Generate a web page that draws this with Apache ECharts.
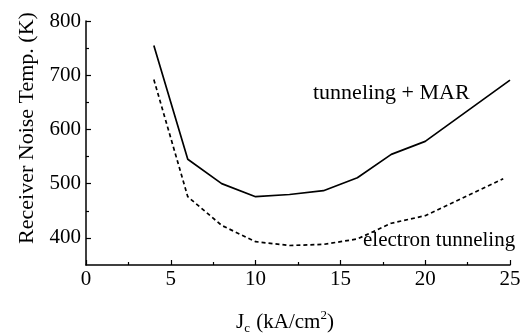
<!DOCTYPE html>
<html>
<head>
<meta charset="utf-8">
<script src="https://cdn.jsdelivr.net/npm/echarts@6/dist/echarts.min.js"></script>
<style>
  html, body { margin: 0; padding: 0; background: #fff; }
  #chart { width: 532px; height: 333px; }
</style>
</head>
<body>
<div id="chart"></div>
<script>
// Jc values (kA/cm2) and noise temperatures (K)
const mar = [[4, 755], [6, 545], [8, 500], [10, 476], [12, 480], [14, 487], [16, 511], [18, 554], [20, 578], [25, 691]];
const electron = [[4, 692], [6, 476], [8, 423], [10, 393], [12, 386], [14, 388], [16, 398], [18, 427], [20, 441], [24.6, 509]];
const yTicks = [400, 500, 600, 700, 800];
const yMinorTicks = [450, 550, 650, 750];

const font = '"Liberation Serif", "DejaVu Serif", serif';

const chart = echarts.init(document.getElementById('chart'));

const option = {
    animation: false,
    backgroundColor: '#fff',
    grid: { left: 86, right: 22, top: 21, bottom: 68, outerBoundsMode: 'none', containLabel: false },
    xAxis: {
        type: 'value',
        min: 0,
        max: 25,
        interval: 5,
        name: '{a|J}{sub|c}{a| (kA/cm}{sup|2}{a|)}',
        nameLocation: 'middle',
        nameGap: 44,
        nameTextStyle: {
            padding: [0, 26, 0, 0],
            rich: {
                a: { fontFamily: font, fontSize: 21, color: '#000', lineHeight: 26 },
                sub: { fontFamily: font, fontSize: 13, color: '#000', verticalAlign: 'bottom', lineHeight: 26, padding: [0, 1, 0, 0] },
                sup: { fontFamily: font, fontSize: 13, color: '#000', verticalAlign: 'top', lineHeight: 26 }
            }
        },
        axisLine: { lineStyle: { color: '#000', width: 1.5 } },
        axisTick: { inside: true, length: 5, lineStyle: { color: '#000', width: 1.2 } },
        minorTick: { show: true, splitNumber: 2, length: 3, lineStyle: { color: '#000', width: 1.2 } },
        splitLine: { show: false },
        axisLabel: { fontFamily: font, fontSize: 21, color: '#000', margin: 4 }
    },
    yAxis: [{
        type: 'value',
        min: 350,
        max: 800,
        name: 'Receiver Noise Temp. (K)',
        nameLocation: 'middle',
        nameRotate: 90,
        nameGap: 48,
        nameTextStyle: { fontFamily: font, fontSize: 22, color: '#000', padding: [0, 0, 0, 30] },
        axisLine: { show: true, lineStyle: { color: '#000', width: 1.5 } },
        axisTick: { show: true, inside: true, length: 5, customValues: yTicks, lineStyle: { color: '#000', width: 1.2 } },
        axisLabel: { fontFamily: font, fontSize: 21, color: '#000', margin: 5, customValues: yTicks },
        splitLine: { show: false }
    }, {
        type: 'value',
        min: 350,
        max: 800,
        position: 'left',
        axisLine: { show: false },
        axisTick: { show: true, inside: true, length: 3, customValues: yMinorTicks, lineStyle: { color: '#000', width: 1.2 } },
        axisLabel: { show: false },
        splitLine: { show: false }
    }],
    series: [
        {
            name: 'tunneling + MAR',
            type: 'line',
            data: mar,
            symbol: 'none',
            lineStyle: { color: '#000', width: 1.7 }
        },
        {
            name: 'electron tunneling',
            type: 'line',
            data: electron,
            symbol: 'none',
            lineStyle: { color: '#000', width: 1.7, type: [4, 3] }
        }
    ],
    graphic: [
        {
            type: 'text', left: 313, top: 82,
            style: { text: 'tunneling + MAR', font: '22px ' + font, fill: '#000' }
        },
        {
            type: 'text', left: 363, top: 230,
            style: { text: 'electron tunneling', font: '21px ' + font, fill: '#000' }
        }
    ]
};

chart.setOption(option);
</script>
</body>
</html>
